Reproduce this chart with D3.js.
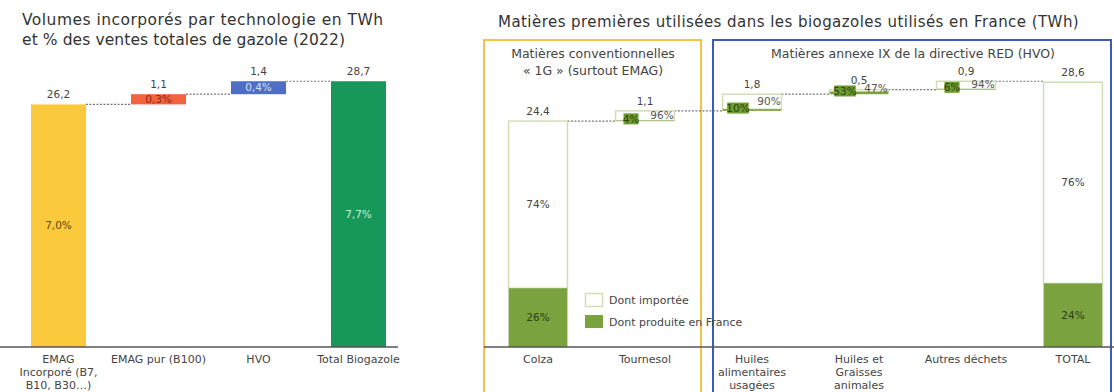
<!DOCTYPE html>
<html lang="fr">
<head>
<meta charset="utf-8">
<script src="https://cdn.jsdelivr.net/npm/d3@7"></script>
<style>
  html, body { margin: 0; padding: 0; background: #fff; }
  svg { display: block; font-family: "DejaVu Sans", "Open Sans", sans-serif; }
</style>
</head>
<body>
<svg id="chart" width="1114" height="392"></svg>
<script>
// ---- Volumes incorporés par technologie (TWh) ----
const techCategories = ["EMAG\nIncorporé (B7,\nB10, B30…)", "EMAG pur (B100)", "HVO", "Total Biogazole"];
const techValues = [26.2, 1.1, 1.4, 28.7];
const techShares = ["7,0%", "0,3%", "0,4%", "7,7%"];
const techIsTotal = [false, false, false, true];

// ---- Matières premières (TWh) ----
const feedCategories = ["Colza", "Tournesol", "Huiles\nalimentaires\nusagées", "Huiles et\nGraisses\nanimales", "Autres déchets", "TOTAL"];
const feedValues = [24.4, 1.1, 1.8, 0.5, 0.9, 28.6];
const feedProducedPct = [26, 4, 10, 53, 6, 24];
const feedImportedPct = [74, 96, 90, 47, 94, 76];
const feedIsTotal = [false, false, false, false, false, true];

const fmt = v => d3.format(".1f")(v).replace(".", ",");

const svg = d3.select("#chart");
const baseY = 347;
const y = d3.scaleLinear().domain([0, 30]).range([baseY, baseY - 30 * 9.26]);

// Running base for waterfall layout
function stack(values, isTotal) {
  let acc = 0;
  return values.map((v, i) => {
    if (isTotal[i]) return { base: 0, top: v };
    const r = { base: acc, top: acc + v };
    acc += v;
    return r;
  });
}

function categoryLabels(g, x, cats) {
  cats.forEach(c => {
    const lines = c.split("\n");
    const t = g.append("text")
      .attr("text-anchor", "middle")
      .attr("font-size", 11)
      .attr("fill", "#444");
    lines.forEach((ln, j) => {
      t.append("tspan").attr("x", x(c) + x.bandwidth() / 2).attr("y", 363 + j * 13).text(ln);
    });
  });
}

// ================= Left chart =================
const left = svg.append("g");
left.append("text").attr("x", 22).attr("y", 25).attr("font-size", 15.5)
  .attr("textLength", 361).attr("lengthAdjust", "spacing")
  .attr("fill", "#333").text("Volumes incorporés par technologie en TWh");
left.append("text").attr("x", 22).attr("y", 45).attr("font-size", 15.5)
  .attr("textLength", 323).attr("lengthAdjust", "spacing")
  .attr("fill", "#333").text("et % des ventes totales de gazole (2022)");

const xL = d3.scaleBand().domain(techCategories).range([8.5, 408.5]).paddingInner(0.45).paddingOuter(0.225);
const techColors = ["#fbca3c", "#f2623f", "#4f6fc6", "#17975a"];
const techShareColors = ["#5b4a12", "#8a2c12", "#d6e0fb", "#c9efd7"];
const techStack = stack(techValues, techIsTotal);

// connectors
techStack.forEach((s, i) => {
  if (i === techStack.length - 1) return;
  const yy = y(s.top);
  left.append("line")
    .attr("x1", xL(techCategories[i]) + xL.bandwidth()).attr("x2", xL(techCategories[i + 1]))
    .attr("y1", yy).attr("y2", yy)
    .attr("stroke", "#777").attr("stroke-width", 1.2).attr("stroke-dasharray", "2,1.5");
});

techStack.forEach((s, i) => {
  const c = techCategories[i];
  const x0 = xL(c), w = xL.bandwidth();
  left.append("rect").attr("x", x0).attr("width", w)
    .attr("y", y(s.top)).attr("height", y(s.base) - y(s.top))
    .attr("fill", techColors[i]);
  left.append("text").attr("x", x0 + w / 2).attr("y", y(s.top) - 6)
    .attr("text-anchor", "middle").attr("font-size", 10.5).attr("fill", "#444")
    .text(fmt(techValues[i]));
  left.append("text").attr("x", x0 + w / 2).attr("y", (y(s.top) + y(s.base)) / 2)
    .attr("dy", "0.35em").attr("text-anchor", "middle").attr("font-size", 10.5)
    .attr("fill", techShareColors[i]).text(techShares[i]);
});

left.append("line").attr("x1", 0).attr("x2", 398).attr("y1", baseY).attr("y2", baseY)
  .attr("stroke", "#555").attr("stroke-width", 1.5);
categoryLabels(left, xL, techCategories);

// ================= Right chart =================
const right = svg.append("g");
right.append("text").attr("x", 498).attr("y", 27).attr("font-size", 15).attr("letter-spacing", 0.45)
  .attr("fill", "#333")
  .text("Matières premières utilisées dans les biogazoles utilisés en France (TWh)");

const xR = d3.scaleBand().domain(feedCategories).range([484.5, 1126.5]).paddingInner(0.45).paddingOuter(0.225);
const green = "#7aa23e", labelGreen = "#6c9c2c", outline = "#d2deb6";
const feedStack = stack(feedValues, feedIsTotal);

// group frames
right.append("rect").attr("x", 484).attr("y", 40).attr("width", 217).attr("height", 360)
  .attr("fill", "none").attr("stroke", "#f5c347").attr("stroke-width", 2);
right.append("rect").attr("x", 713).attr("y", 40).attr("width", 398).attr("height", 360)
  .attr("fill", "none").attr("stroke", "#3d5bb8").attr("stroke-width", 2);
right.append("text").attr("x", 593).attr("y", 58).attr("text-anchor", "middle")
  .attr("font-size", 12.5).attr("fill", "#444").text("Matières conventionnelles");
right.append("text").attr("x", 593).attr("y", 75).attr("text-anchor", "middle")
  .attr("font-size", 12.5).attr("fill", "#444").text("« 1G » (surtout EMAG)");
right.append("text").attr("x", 913).attr("y", 58).attr("text-anchor", "middle")
  .attr("font-size", 12.5).attr("fill", "#444").text("Matières annexe IX de la directive RED (HVO)");

// connectors
feedStack.forEach((s, i) => {
  if (i === feedStack.length - 1) return;
  const yy = y(s.top);
  right.append("line")
    .attr("x1", xR(feedCategories[i]) + xR.bandwidth()).attr("x2", xR(feedCategories[i + 1]))
    .attr("y1", yy).attr("y2", yy)
    .attr("stroke", "#777").attr("stroke-width", 1.2).attr("stroke-dasharray", "2,1.5");
});

feedStack.forEach((s, i) => {
  const c = feedCategories[i];
  const x0 = xR(c), w = xR.bandwidth(), cx = x0 + w / 2;
  const prodTop = s.base + feedValues[i] * feedProducedPct[i] / 100;
  // imported part (outlined)
  right.append("rect").attr("x", x0).attr("width", w)
    .attr("y", y(s.top)).attr("height", y(prodTop) - y(s.top))
    .attr("fill", "#fff").attr("stroke", outline).attr("stroke-width", 1.5);
  // produced in France
  right.append("rect").attr("x", x0).attr("width", w)
    .attr("y", y(prodTop)).attr("height", y(s.base) - y(prodTop))
    .attr("fill", green);
  right.append("text").attr("x", cx).attr("y", y(s.top) - 6)
    .attr("text-anchor", "middle").attr("font-size", 10.5).attr("fill", "#444")
    .text(fmt(feedValues[i]));

  if (feedIsTotal[i] || i === 0) {
    right.append("text").attr("x", cx).attr("y", (y(s.top) + y(prodTop)) / 2).attr("dy", "0.35em")
      .attr("text-anchor", "middle").attr("font-size", 10.5).attr("fill", "#444")
      .text(feedImportedPct[i] + "%");
    right.append("text").attr("x", cx).attr("y", (y(prodTop) + y(s.base)) / 2).attr("dy", "0.35em")
      .attr("text-anchor", "middle").attr("font-size", 10.5).attr("fill", "#2f3f12")
      .text(feedProducedPct[i] + "%");
  } else {
    const py = (y(prodTop) + y(s.base)) / 2 - 2;
    const pt = feedProducedPct[i] + "%";
    const bw = pt.length * 6.5 + 2;
    right.append("rect").attr("x", cx - 14 - bw / 2).attr("y", py - 5.5).attr("width", bw).attr("height", 11)
      .attr("fill", labelGreen);
    right.append("text").attr("x", cx - 14).attr("y", py).attr("dy", "0.35em")
      .attr("text-anchor", "middle").attr("font-size", 10.5).attr("fill", "#2f3f12").text(pt);
    const iy = Math.min((y(s.top) + y(prodTop)) / 2, py - 3);
    right.append("text").attr("x", cx + 17).attr("y", iy).attr("dy", "0.35em")
      .attr("text-anchor", "middle").attr("font-size", 10.5).attr("fill", "#555")
      .text(feedImportedPct[i] + "%");
  }
});

right.append("line").attr("x1", 484).attr("x2", 1114).attr("y1", baseY).attr("y2", baseY)
  .attr("stroke", "#555").attr("stroke-width", 1.5);
categoryLabels(right, xR, feedCategories);

// legend
const legend = right.append("g").attr("font-size", 11).attr("fill", "#444");
legend.append("rect").attr("x", 585.5).attr("y", 293.5).attr("width", 17).attr("height", 13)
  .attr("fill", "#fff").attr("stroke", outline).attr("stroke-width", 1.5);
legend.append("text").attr("x", 609).attr("y", 300).attr("dy", "0.35em").text("Dont importée");
legend.append("rect").attr("x", 585).attr("y", 315).attr("width", 18).attr("height", 13).attr("fill", green);
legend.append("text").attr("x", 609).attr("y", 322).attr("dy", "0.35em").text("Dont produite en France");
</script>
</body>
</html>
